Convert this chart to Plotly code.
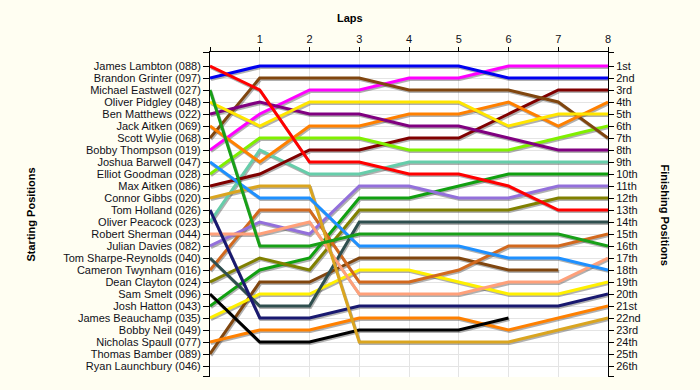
import plotly.graph_objects as go

laps = [0, 1, 2, 3, 4, 5, 6, 7, 8]
lap_labels = ["", "1", "2", "3", "4", "5", "6", "7", "8"]

start_names = [
    "James Lambton (088)", "Brandon Grinter (097)", "Michael Eastwell (027)",
    "Oliver Pidgley (048)", "Ben Matthews (022)", "Jack Aitken (069)",
    "Scott Wylie (068)", "Bobby Thompson (019)", "Joshua Barwell (047)",
    "Elliot Goodman (028)", "Max Aitken (086)", "Connor Gibbs (020)",
    "Tom Holland (026)", "Oliver Peacock (023)", "Robert Sherman (044)",
    "Julian Davies (082)", "Tom Sharpe-Reynolds (040)", "Cameron Twynham (016)",
    "Dean Clayton (024)", "Sam Smelt (096)", "Josh Hatton (043)",
    "James Beauchamp (035)", "Bobby Neil (049)", "Nicholas Spaull (077)",
    "Thomas Bamber (089)", "Ryan Launchbury (046)",
]
finish_labels = [
    "1st", "2nd", "3rd", "4th", "5th", "6th", "7th", "8th", "9th", "10th",
    "11th", "12th", "13th", "14th", "15th", "16th", "17th", "18th", "19th",
    "20th", "21st", "22nd", "23rd", "24th", "25th", "26th",
]

# Position at each lap (lap 0 = grid), None = not running
pos_088 = [1, 3, 9, 9, 10, 10, 11, 13, 13]
pos_097 = [2, 1, 1, 1, 1, 1, 2, 2, 2]
pos_027 = [3, 16, 16, 15, 15, 15, 15, 15, 16]
pos_048 = [4, 6, 4, 4, 4, 4, 6, 5, 5]
pos_022 = [5, 4, 5, 5, 6, 6, 7, 8, 8]
pos_069 = [6, 9, 6, 6, 5, 5, 4, 6, 4]
pos_068 = [7, 2, 2, 2, 3, 3, 3, 4, 7]
pos_019 = [8, 5, 3, 3, 2, 2, 1, 1, 1]
pos_047 = [9, 12, 12, 16, 16, 16, 17, 17, 18]
pos_028 = [10, 7, 7, 7, 8, 8, 8, 7, 6]
pos_086 = [11, 10, 8, 8, 7, 7, 5, 3, 3]
pos_020 = [12, 11, 11, 24, 24, 24, 24, 23, 22]
pos_026 = [13, 22, 22, 21, 21, 21, 21, 21, 20]
pos_023 = [14, 8, 10, 10, 9, 9, 9, 9, 9]
pos_044 = [15, 15, 14, 20, 20, 20, 19, 19, 17]
pos_082 = [16, 14, 15, 11, 11, 12, 12, 11, 11]
pos_040 = [17, 21, 21, 14, 14, 14, 14, 14, 14]
pos_016 = [18, 13, 13, 19, 19, 18, 16, 16, 15]
pos_024 = [19, 17, 18, 13, 13, 13, 13, 12, 12]
pos_096 = [20, 24, 24, 23, 23, 23, 22, None, None]
pos_043 = [21, 18, 17, 12, 12, 11, 10, 10, 10]
pos_035 = [22, 20, 20, 18, 18, 19, 20, 20, 19]
pos_049 = [None] * 9
pos_077 = [24, 23, 23, 22, 22, 22, 23, 22, 21]
pos_089 = [25, 19, 19, 17, 17, 17, 18, 18, None]
pos_046 = [None] * 9

series = [pos_088, pos_097, pos_027, pos_048, pos_022, pos_069, pos_068,
          pos_019, pos_047, pos_028, pos_086, pos_020, pos_026, pos_023,
          pos_044, pos_082, pos_040, pos_016, pos_024, pos_096, pos_043,
          pos_035, pos_049, pos_077, pos_089, pos_046]

colors = ["#FF0000", "#0000F0", "#18A018", "#FFE600", "#800080", "#FF8000",
          "#80460F", "#FF00FF", "#1E90FF", "#80F000", "#800000", "#DAA520",
          "#191970", "#66CDAA", "#FFA07A", "#9370DB", "#2F4F4F", "#D2691E",
          "#808000", "#000000", "#10A010", "#FFF000", "#888888", "#FF8000",
          "#80460F", "#888888"]

FONT = "Liberation Sans, Arial, sans-serif"
Y_TOP, Y_BOT = -0.1667, 26.9167
SDX, SDY = 0.02, 0.13  # shadow offset (~1px right, ~1.5px down)

fig = go.Figure()

# shadows
for vals in series:
    if all(v is None for v in vals):
        continue
    fig.add_trace(go.Scatter(
        x=[l + SDX for l in laps],
        y=[None if v is None else v + SDY for v in vals],
        mode="lines", line=dict(color="rgba(80,80,80,0.45)", width=3),
        hoverinfo="skip", showlegend=False, connectgaps=False))

# driver lines
for name, vals, col in list(zip(start_names, series, colors))[::-1]:
    if all(v is None for v in vals):
        continue
    fig.add_trace(go.Scatter(
        x=laps, y=vals, mode="lines", name=name,
        line=dict(color=col, width=3), showlegend=False, connectgaps=False))

# invisible trace to activate right axis
fig.add_trace(go.Scatter(x=laps, y=pos_097, yaxis="y2", mode="lines",
                         line=dict(color="rgba(0,0,0,0)", width=0),
                         hoverinfo="skip", showlegend=False))

positions = list(range(1, 27))
tick_pos = [Y_TOP + 0.01] + positions + [Y_BOT - 0.01]

fig.update_layout(
    width=700, height=390,
    margin=dict(l=210, r=92, t=52, b=13, autoexpand=False),
    paper_bgcolor="#FFFEF2", plot_bgcolor="#FFFFFF",
    font=dict(family=FONT, size=11, color="#101018"),
    showlegend=False, hovermode=False,
    xaxis=dict(
        side="top", range=[0, 8], tickvals=laps, ticktext=lap_labels,
        showgrid=True, gridcolor="#E4E4E4", gridwidth=1,
        showline=True, linecolor="#000000", linewidth=1,
        ticks="outside", ticklen=4, tickcolor="#000000", automargin=False,
        tickfont=dict(family=FONT, size=11), zeroline=False, fixedrange=True),
    yaxis=dict(
        range=[Y_BOT, Y_TOP], tickvals=tick_pos,
        ticktext=[""] + start_names + [""], automargin=False,
        showgrid=True, gridcolor="#E4E4E4", gridwidth=1,
        showline=True, linecolor="#000000", linewidth=1,
        ticks="outside", ticklen=6, tickcolor="#000000",
        tickfont=dict(family=FONT, size=11), zeroline=False),
    yaxis2=dict(
        overlaying="y", side="right", anchor="x",
        range=[Y_BOT, Y_TOP], tickvals=tick_pos,
        ticktext=[""] + finish_labels + [""], automargin=False,
        showgrid=False, showline=True, linecolor="#000000", linewidth=1,
        ticks="outside", ticklen=5, tickcolor="#000000",
        tickfont=dict(family=FONT, size=11), zeroline=False),
    annotations=[
        dict(text="<b>Laps</b>", xref="paper", yref="paper",
             x=(350 - 210) / 398, y=1 + (52 - 18) / 325, showarrow=False,
             xanchor="center", yanchor="middle",
             font=dict(family=FONT, size=11, color="#000000")),
        dict(text="<b>Starting Positions</b>", xref="paper", yref="paper",
             x=(30 - 210) / 398, y=0.5, textangle=-90, showarrow=False,
             xanchor="center", yanchor="middle",
             font=dict(family=FONT, size=11, color="#000000")),
        dict(text="<b>Finishing Positions</b>", xref="paper", yref="paper",
             x=1 + (665 - 608) / 398, y=0.5, textangle=90, showarrow=False,
             xanchor="center", yanchor="middle",
             font=dict(family=FONT, size=11, color="#000000")),
    ],
)

fig.write_html(
    "out.html",
    config={"displayModeBar": False, "staticPlot": True},
    post_script="document.body.style.margin='0';document.body.style.padding='0';",
)
